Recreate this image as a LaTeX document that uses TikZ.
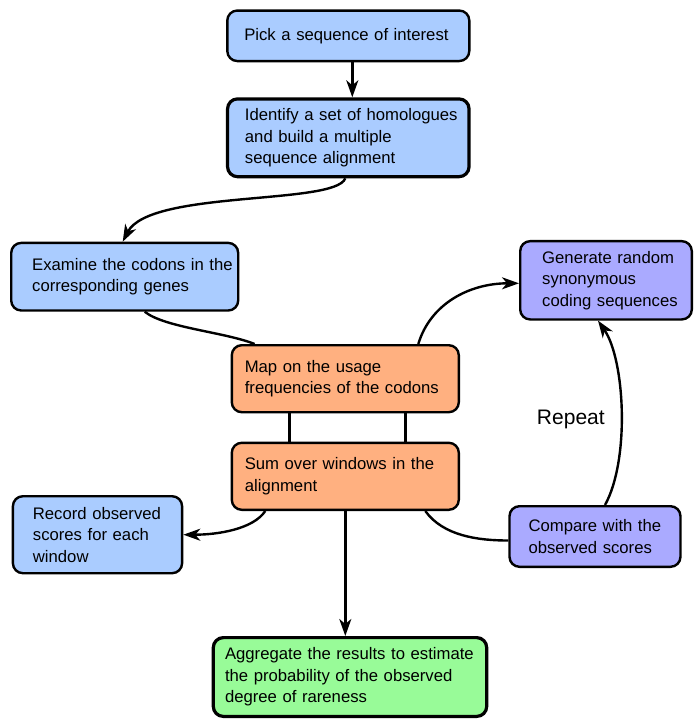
\documentclass[tikz,border=0pt]{standalone}
\usepackage{fontspec}
\setmainfont{Liberation Sans}
\usetikzlibrary{arrows.meta}
\definecolor{stepblue}{RGB}{170,204,255}
\definecolor{steppurple}{RGB}{170,170,255}
\definecolor{steporange}{RGB}{255,176,128}
\definecolor{stepgreen}{RGB}{152,251,152}

\begin{document}
\begin{tikzpicture}[x=1pt,y=-1pt,>={Stealth[length=17pt,width=12pt,inset=5pt]},line width=2.4pt,
  flow box/.style={draw,rounded corners=10pt,align=left,inner xsep=6pt,inner ysep=4pt,font=\fontsize{16.7}{21.5}\selectfont},
  text inset/.style={execute at begin node={\leftskip=#1 \rightskip=-30pt plus 1fil\relax}},
  heavy/.style={line width=3.2pt}]
  \useasboundingbox (0,0) rectangle (694,720);

  \node[flow box,fill=stepblue,text width=230pt,minimum height=50.5pt,text inset=11pt] (pick) at (348.3,35.8) {Pick a sequence of interest};
  \node[flow box,heavy,fill=stepblue,text width=229.5pt,minimum height=77.8pt,text inset=11.4pt] (identify) at (348.3,137.8) {Identify a set of homologues\\and build a multiple\\sequence alignment};
  \node[flow box,fill=stepblue,text width=215pt,minimum height=67.6pt,text inset=15pt] (examine) at (124.7,276.7) {Examine the codons in the\\corresponding genes};
  \node[flow box,fill=steppurple,text width=159.6pt,minimum height=78.3pt,text inset=16pt] (generate) at (606,280.3) {Generate random\\synonymous\\coding sequences};
  \node[flow box,fill=steporange,text width=215pt,minimum height=67pt,text inset=7pt] (map) at (345.3,378.7) {Map on the usage\\frequencies of the codons};
  \node[flow box,fill=steporange,text width=215pt,minimum height=67pt,text inset=7pt] (sum) at (345.3,476.3) {Sum over windows in the\\alignment};
  \node[flow box,fill=stepblue,text width=157.2pt,minimum height=77pt,text inset=14pt] (record) at (97.5,534.7) {Record observed\\scores for each\\window};
  \node[flow box,fill=steppurple,text width=159pt,minimum height=60.6pt,text inset=13pt] (compare) at (595,536.5) {Compare with the\\observed scores};
  \node[flow box,heavy,fill=stepgreen,text width=261.4pt,minimum height=78.8pt,text inset=5.7pt] (aggregate) at (350,677) {Aggregate the results to estimate\\the probability of the observed\\degree of rareness};

\path[->]
  ([xshift=4pt]pick.south) edge ([xshift=4pt]identify.north)
  (sum.south) edge (sum.south |- aggregate.north);
\path
  ([xshift=-56pt]map.south) edge ([xshift=-56pt]sum.north)
  ([xshift=60pt]map.south) edge ([xshift=60pt]sum.north);

  \draw[->] ([xshift=-3pt]identify.south) .. controls +(-10,27) and +(27,-52) .. ([xshift=-2pt]examine.north);
  \draw ([xshift=20pt]examine.south) .. controls +(20,16) and +(-30,-12) .. ([xshift=24pt]map.north west);
  \draw[->] ([xshift=73pt]map.north) .. controls +(12,-40) and +(-50,0) .. ([yshift=-3pt]generate.west);
  \draw[->] ([xshift=10pt]compare.north) .. controls +(25,-45) and +(27,39) .. ([xshift=-8pt]generate.south)
    node[pos=0.46,left=12pt,font=\fontsize{21}{25}\selectfont] (repeat) {Repeat};
  \draw ([xshift=80pt]sum.south) .. controls +(18,25) and +(-30,0) .. ([yshift=-4pt]compare.west);
  \draw[->] ([xshift=-80pt]sum.south) .. controls +(-12,18) and +(35,0) .. (record.east);
\end{tikzpicture}
\end{document}
